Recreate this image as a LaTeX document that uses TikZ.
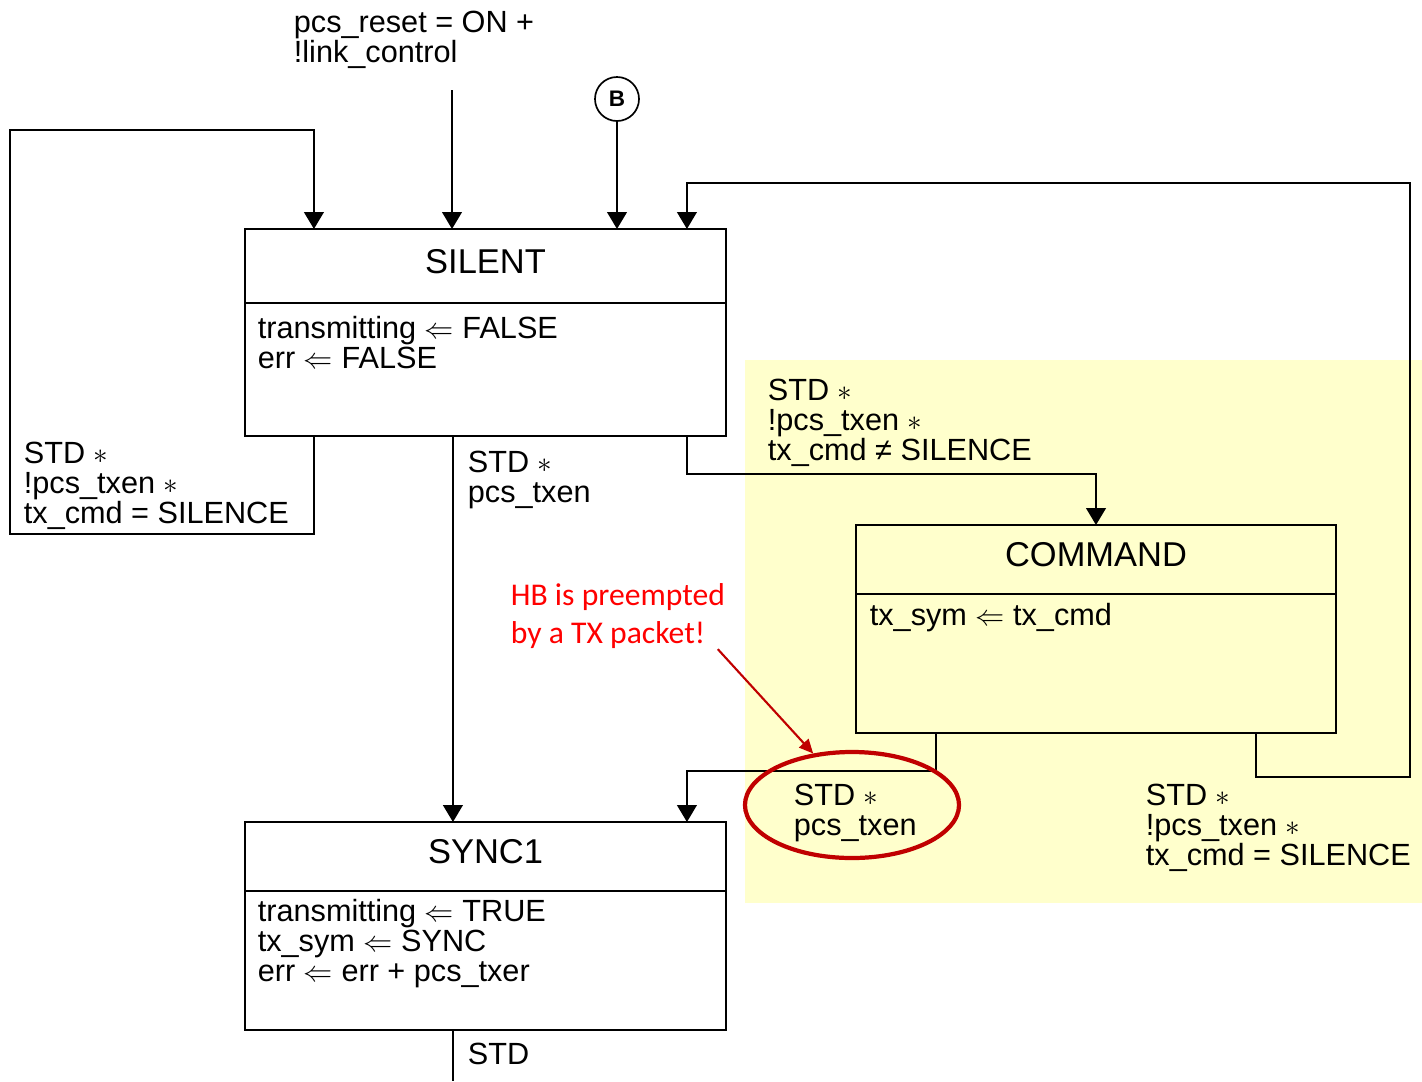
\documentclass[tikz,border=0pt]{standalone}
\usepackage{fontspec}
\setmainfont{Liberation Sans}
\newfontfamily\notefont{Carlito}
\usetikzlibrary{arrows.meta,calc,shapes.geometric}
\definecolor{Highlight}{HTML}{FFFFCC}
\definecolor{NoteRed}{HTML}{FF0000}
\definecolor{MarkRed}{HTML}{C00000}

\begin{document}
\begin{tikzpicture}[
      x=0.025cm, y=-0.025cm,
      line width=1.3pt,
      statebox/.style={
        draw,
        rectangle,
        minimum width=12.025cm,
        inner sep=0pt,
        outer sep=0pt
      },
      statename/.style={
        inner sep=0pt,
        font=\fontsize{24.5}{25}\selectfont
      },
      condition/.style={
        anchor=north west,
        align=left,
        inner sep=0pt,
        font=\fontsize{21.8}{21.5}\selectfont
      },
      arr/.style={-{Triangle[width=14pt,length=12pt]}}
    ]
      \useasboundingbox (0,0) rectangle (1422,1081);
      \fill[Highlight] (745,360) rectangle (1422,903);

      \node[statebox,minimum height=5.175cm] (silent) at (485.5,332.5) {};
      \node[statename] at ($(silent.north)+(0,33)$) {SILENT};
      \draw ($(silent.north west)+(0,74)$) -- ($(silent.north east)+(0,74)$);
      \node[condition] (silentdo) at ($(silent.north west)+(12,86)$) {
        transmitting $\Leftarrow$ FALSE\\
        err $\Leftarrow$ FALSE};

      \node[statebox,minimum width=12cm,minimum height=5.2cm] (command) at (1096,629) {};
      \node[statename] at ($(command.north)+(0,30)$) {COMMAND};
      \draw ($(command.north west)+(0,69)$) -- ($(command.north east)+(0,69)$);
      \node[condition] (commanddo) at ($(command.north west)+(13,77)$) {
        tx\_sym $\Leftarrow$ tx\_cmd};

      \node[statebox,minimum height=5.2cm] (sync1) at (485.5,926) {};
      \node[statename] at ($(sync1.north)+(0,30)$) {SYNC1};
      \draw ($(sync1.north west)+(0,69)$) -- ($(sync1.north east)+(0,69)$);
      \node[condition] (sync1do) at ($(sync1.north west)+(12,76)$) {
        transmitting $\Leftarrow$ TRUE\\
        tx\_sym $\Leftarrow$ SYNC\\
        err $\Leftarrow$ err + pcs\_txer};

      \node[condition] (resetcond) at (293,10) {pcs\_reset = ON +\\!link\_control};
      \coordinate (resetin) at (452,90);
      \node[draw,circle,minimum size=1.1cm,inner sep=0pt,line width=1.2pt,
        font=\fontsize{16}{16}\selectfont\bfseries] (connB) at (617,99) {B};

      \draw[arr] (resetin) -- (resetin |- silent.north);
      \draw[arr] (connB) -- (connB |- silent.north);
      \draw[arr] ($(silent.south west)+(69,0)$) -- ++(0,98) -| ++(-304,-404)
        -| ($(silent.north west)+(69,0)$);
      \draw[arr] ($(command.south west)+(400,0)$) -- ++(0,44) -| ++(154,-594)
        -| ($(silent.north west)+(442,0)$);
      \draw[arr] ($(silent.south west)+(208,0)$) -- ($(sync1.north west)+(208,0)$);
      \draw[arr] ($(silent.south west)+(442,0)$) -- ++(0,38) -| (command.north);
      \draw[arr] ($(command.south west)+(80,0)$) -- ++(0,38)
        -| ($(sync1.north west)+(442,0)$);
      \draw ($(sync1.south west)+(208,0)$) -- ++(0,51);

      \node[condition] (loopcond) at (23,441) {STD $\ast$\\!pcs\_txen $\ast$\\tx\_cmd = SILENCE};
      \node[condition] (synccond) at (467,450) {STD $\ast$\\pcs\_txen};
      \node[condition] (cmdcond) at (767,378) {STD $\ast$\\!pcs\_txen $\ast$\\tx\_cmd ≠ SILENCE};
      \node[condition] (preemptcond) at (793,783) {STD $\ast$\\pcs\_txen};
      \node[condition] (returncond) at (1145,783) {STD $\ast$\\!pcs\_txen $\ast$\\tx\_cmd = SILENCE};
      \node[condition] (stdcond) at (467,1042) {STD};

      \node[draw=MarkRed,ellipse,line width=3pt,minimum width=5.35cm,
        minimum height=2.65cm,inner sep=0pt] (hbmark) at (852,805) {};
      \node[anchor=north west,align=left,inner sep=0pt,text=NoteRed,
        font=\notefont\fontsize{22.5}{26.5}\selectfont] (hbnote) at (510,583) {
        HB is preempted\\
        by a TX packet!};
      \draw[MarkRed,line width=1.5pt,-{Triangle[width=9pt,length=10pt]}]
        ($(hbnote.south east)+(-8,0)$) -- (hbmark.127);
    \end{tikzpicture}
\end{document}
